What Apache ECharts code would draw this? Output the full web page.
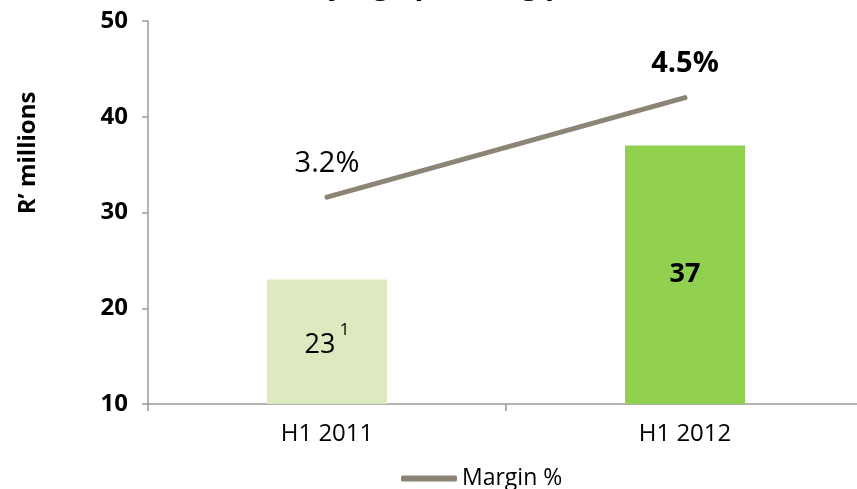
<!DOCTYPE html>
<html>
<head>
<meta charset="utf-8">
<script src="https://cdn.jsdelivr.net/npm/echarts@6/dist/echarts.min.js"></script>
<style>
  html, body { margin: 0; padding: 0; background: #fff; }
  #chart { width: 857px; height: 489px; }
</style>
</head>
<body>
<div id="chart"></div>
<script>
  // data
  const categories = ['H1 2011', 'H1 2012'];
  const profit = [23, 37];          // R' millions
  const margin = [3.2, 4.5];        // %
  const yTicks = { min: 10, max: 50, interval: 10 };

  const barColors = ['#DDE9BE', '#92D050'];
  const lineColor = '#8C8474';
  const font = '"Open Sans", "Noto Sans", sans-serif';

  const myChart = echarts.init(document.getElementById('chart'));

  // bar items: first one carries the footnote superscript, second is bold
  const barData = profit.map((v, i) => ({
    value: v,
    itemStyle: { color: barColors[i] },
    label: i === 0
      ? { formatter: '{a|{c}}{s| 1}', offset: [0, 4], rich: {
            a: { fontSize: 27, color: '#000', fontFamily: font, fontWeight: 'normal' },
            s: { fontSize: 17, color: '#000', fontFamily: font, verticalAlign: 'top', padding: [0, 0, 32, 0] }
          } }
      : { formatter: '{c}', fontWeight: 'bold' }
  }));

  const lineData = margin.map((v, i) => ({
    value: v,
    label: { fontWeight: i === 0 ? 'normal' : 'bold' }
  }));

  myChart.setOption({
    animation: false,
    textStyle: { fontFamily: font },
    title: {
      text: 'Underlying operating profit',
      left: 'center',
      top: -34,
      textStyle: { fontSize: 29, fontWeight: 'bold', color: '#000', fontFamily: font }
    },
    legend: {
      data: ['Margin %'],
      left: 396,
      top: 462,
      icon: 'roundRect',
      itemWidth: 56,
      itemHeight: 6,
      textStyle: { fontSize: 23, color: '#000', fontFamily: font }
    },
    grid: {
      left: 148,
      width: 716,
      top: 21,
      bottom: 85,
      containLabel: false,
      outerBoundsMode: 'none'
    },
    graphic: [{
      type: 'text',
      x: 28,
      y: 153,
      rotation: Math.PI / 2,
      style: {
        text: 'R’ millions',
        fontSize: 24,
        fontWeight: 'bold',
        fontFamily: font,
        fill: '#000',
        textAlign: 'center',
        textVerticalAlign: 'middle'
      }
    }],
    xAxis: {
      type: 'category',
      data: categories,
      axisLine: { lineStyle: { color: '#9A9A9A', width: 1.5 } },
      axisTick: { show: true, length: 7, lineStyle: { color: '#9A9A9A', width: 1.5 } },
      axisLabel: { fontSize: 24, color: '#000', margin: 18, fontFamily: font },
      splitLine: { show: false }
    },
    yAxis: [
      {
        type: 'value',
        min: yTicks.min,
        max: yTicks.max,
        interval: yTicks.interval,
        axisLine: { show: true, lineStyle: { color: '#9A9A9A', width: 1.5 } },
        axisTick: { show: true, length: 6, lineStyle: { color: '#9A9A9A', width: 1.5 } },
        axisLabel: { fontSize: 24, fontWeight: 'bold', color: '#000', margin: 20, fontFamily: font },
        splitLine: { show: false }
      },
      {
        type: 'value',
        min: 0.5,
        max: 5.5,
        show: false,
        splitLine: { show: false }
      }
    ],
    series: [
      {
        name: 'Underlying operating profit',
        type: 'bar',
        barWidth: 120,
        data: barData,
        label: {
          show: true,
          position: 'inside',
          fontSize: 27,
          color: '#000',
          fontFamily: font
        }
      },
      {
        name: 'Margin %',
        type: 'line',
        yAxisIndex: 1,
        data: lineData,
        symbol: 'circle',
        symbolSize: 0,
        itemStyle: { color: lineColor },
        lineStyle: { color: lineColor, width: 5, cap: 'round' },
        label: {
          show: true,
          position: 'top',
          distance: 19,
          formatter: '{c}%',
          fontSize: 29,
          color: '#000',
          fontFamily: font
        }
      }
    ]
  });

  window.addEventListener('resize', () => {
    myChart && myChart.resize();
  });
</script>
</body>
</html>
